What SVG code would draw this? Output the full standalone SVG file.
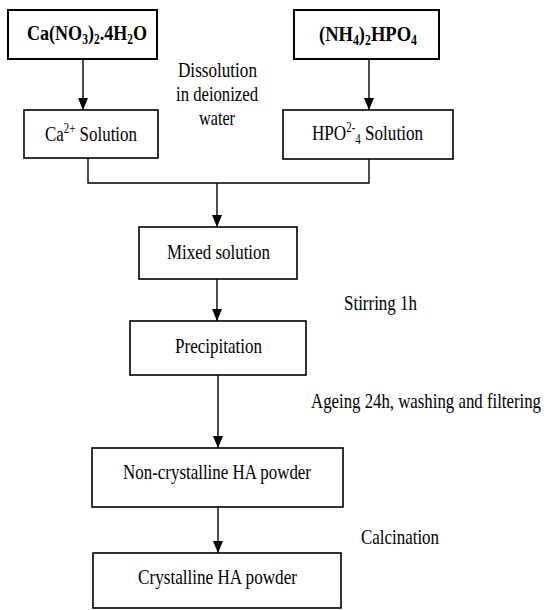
<svg xmlns="http://www.w3.org/2000/svg" width="544" height="610" viewBox="0 0 544 610">
<style>
.box{fill:#fff;stroke:#000;stroke-width:1.6}
.bx2{fill:#fff;stroke:#000;stroke-width:2}
text{font-family:"Liberation Serif","Times New Roman",Times,serif;font-size:22px;fill:#000}
.b{font-weight:bold}
.c{fill:none;stroke:#000;stroke-width:1.4}
</style>
<defs>
<marker id="ah" markerUnits="userSpaceOnUse" markerWidth="12" markerHeight="10" refX="12" refY="5" orient="auto">
<path d="M0,0 L12,5 L0,10 z" fill="#000"/>
</marker>
</defs>
<rect width="544" height="610" fill="#fff"/>
<g id="connectors">
<line class="c" x1="83" y1="59" x2="83" y2="110" marker-end="url(#ah)"/>
<line class="c" x1="369" y1="59" x2="369" y2="110" marker-end="url(#ah)"/>
<polyline class="c" points="88,158 88,183 369,183 369,159"/>
<line class="c" x1="217" y1="183" x2="217" y2="227" marker-end="url(#ah)"/>
<line class="c" x1="217" y1="279" x2="217" y2="321" marker-end="url(#ah)"/>
<line class="c" x1="218" y1="375" x2="218" y2="448" marker-end="url(#ah)"/>
<line class="c" x1="218" y1="507" x2="218" y2="553" marker-end="url(#ah)"/>
</g>
<g id="n1">
<rect class="bx2" x="8" y="10" width="149" height="49"/>
<text class="b" x="27" y="40" textLength="120" lengthAdjust="spacingAndGlyphs">Ca(NO<tspan font-size="14" dy="4">3</tspan><tspan dy="-4">)</tspan><tspan font-size="14" dy="4">2</tspan><tspan dy="-4">.4H</tspan><tspan font-size="14" dy="4">2</tspan><tspan dy="-4">O</tspan></text>
</g>
<g id="n2">
<rect class="bx2" x="294" y="10" width="145" height="49"/>
<text class="b" x="319" y="41" textLength="98" lengthAdjust="spacingAndGlyphs">(NH<tspan font-size="14" dy="4">4</tspan><tspan dy="-4">)</tspan><tspan font-size="14" dy="4">2</tspan><tspan dy="-4">HPO</tspan><tspan font-size="14" dy="4">4</tspan></text>
</g>
<g id="n3">
<rect class="box" x="24" y="110" width="134" height="48"/>
<text x="45" y="141" textLength="92" lengthAdjust="spacingAndGlyphs">Ca<tspan font-size="14" dy="-8">2+</tspan><tspan dy="8"> Solution</tspan></text>
</g>
<g id="n4">
<rect class="box" x="283" y="110" width="170" height="49"/>
<text x="312" y="140" textLength="111" lengthAdjust="spacingAndGlyphs">HPO<tspan font-size="14" dy="-8">2-</tspan><tspan font-size="14" dy="12">4</tspan><tspan dy="-4"> Solution</tspan></text>
</g>
<g id="n5">
<rect class="box" x="139" y="227" width="158" height="52"/>
<text x="167" y="259" textLength="103" lengthAdjust="spacingAndGlyphs">Mixed solution</text>
</g>
<g id="n6">
<rect class="box" x="130" y="321" width="176" height="54"/>
<text x="175" y="353" textLength="87" lengthAdjust="spacingAndGlyphs">Precipitation</text>
</g>
<g id="n7">
<rect class="box" x="92" y="448" width="251" height="59"/>
<text x="123" y="479" textLength="188" lengthAdjust="spacingAndGlyphs">Non-crystalline HA powder</text>
</g>
<g id="n8">
<rect class="box" x="93" y="553" width="248" height="55"/>
<text x="138" y="584" textLength="159" lengthAdjust="spacingAndGlyphs">Crystalline HA powder</text>
</g>
<g id="labels">
<text x="178" y="77" textLength="79" lengthAdjust="spacingAndGlyphs">Dissolution</text>
<text x="176" y="101" textLength="82" lengthAdjust="spacingAndGlyphs">in deionized</text>
<text x="199" y="125" textLength="36" lengthAdjust="spacingAndGlyphs">water</text>
<text x="344" y="310" textLength="73" lengthAdjust="spacingAndGlyphs">Stirring 1h</text>
<text x="541" y="408" text-anchor="end" textLength="230" lengthAdjust="spacingAndGlyphs">Ageing 24h, washing and filtering</text>
<text x="361" y="544" textLength="78" lengthAdjust="spacingAndGlyphs">Calcination</text>
</g>
</svg>
